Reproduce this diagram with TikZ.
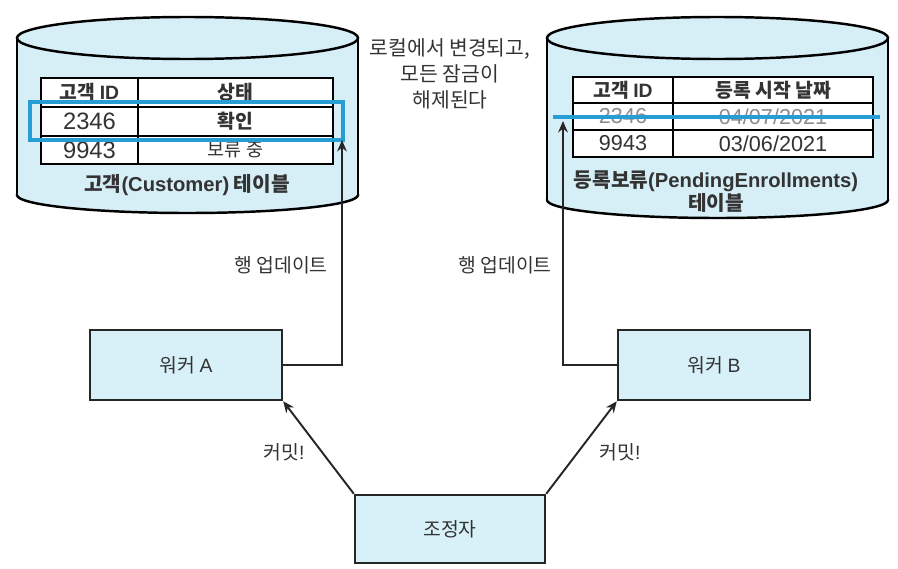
\documentclass[tikz,border=0pt]{standalone}
\usepackage{fontspec}
\setmainfont{Noto Sans CJK KR}
\newfontfamily\latinfont{Liberation Sans}
\definecolor{dbcyan}{RGB}{214, 238, 246}
\definecolor{boxcyan}{RGB}{216, 241, 249}
\definecolor{hlblue}{RGB}{38, 158, 212}
\definecolor{txtgray}{RGB}{51, 51, 51}
\usetikzlibrary{arrows.meta,positioning,calc}

\begin{document}
\begin{tikzpicture}[x=0.02cm, y=-0.02cm,
        every node/.style={text=txtgray, font=\fontsize{11}{13}\selectfont},
        procbox/.style={draw=black!85, line width=1.4pt, fill=boxcyan, minimum width=3.84cm, minimum height=1.4cm},
        cell/.style={font=\fontsize{10.5}{12}\selectfont},
        numcell/.style={font=\latinfont\fontsize{13.5}{14}\selectfont},
        headcell/.style={font=\fontsize{11}{12}\selectfont\bfseries},
        flow/.style={draw=black!85, line width=1.1pt, -{Stealth[length=6.5pt, width=5.5pt]}}]
        \useasboundingbox (0, 0) rectangle (898, 568);

        % Customer table cylinder
        \draw[line width=1.4pt, fill=dbcyan] (187.5, 195) ellipse [x radius=170.5, y radius=18];
        \fill[dbcyan] (17, 38) rectangle (358, 195);
        \draw[line width=1.4pt] (17, 38) -- (17, 195) (358, 38) -- (358, 195);
        \draw[line width=1.4pt, fill=dbcyan] (187.5, 38) ellipse [x radius=170.5, y radius=21];

        \draw[fill=white, line width=1.1pt] (41, 78) rectangle (333, 164);
        \draw[line width=1.1pt] (41, 107) -- (333, 107) (41, 136) -- (333, 136) (138, 78) -- (138, 164);
        \node[headcell] (lh1) at (89.5, 92.5) {고객 {\latinfont ID}};
        \node[headcell] (lh2) at (235.5, 92.5) {상태};
        \node[numcell] (la1) at (89.5, 121.5) {2346};
        \node[headcell] (la2) at (235.5, 121.5) {확인};
        \node[numcell] (lb1) at (89.5, 150) {9943};
        \node[cell] (lb2) at (235.5, 150) {보류 중};
        \node[draw=hlblue, line width=2.2pt, minimum width=6.26cm, minimum height=0.76cm, inner sep=0pt] (lhl) at (186.5, 121) {};
        \node[font=\fontsize{11.5}{13}\selectfont\bfseries] (lcap) at (187, 185) {고객{\latinfont(Customer)} 테이블};

        % PendingEnrollments table cylinder
        \draw[line width=1.4pt, fill=dbcyan] (717.5, 200) ellipse [x radius=170.5, y radius=18];
        \fill[dbcyan] (547, 38) rectangle (888, 200);
        \draw[line width=1.4pt] (547, 38) -- (547, 200) (888, 38) -- (888, 200);
        \draw[line width=1.4pt, fill=dbcyan] (717.5, 38) ellipse [x radius=170.5, y radius=21];

        \draw[fill=white, line width=1.1pt] (573, 77) rectangle (873, 157);
        \draw[line width=1.1pt] (573, 103) -- (873, 103) (573, 130) -- (873, 130) (673, 77) -- (673, 157);
        \node[headcell] (rh1) at (623, 90) {고객 {\latinfont ID}};
        \node[headcell] (rh2) at (773, 90) {등록 시작 날짜};
        \node[numcell, font=\latinfont\fontsize{12.3}{13}\selectfont, text=black!45] (ra1) at (623, 116.5) {2346};
        \node[numcell, font=\latinfont\fontsize{12.3}{13}\selectfont, text=black!45] (ra2) at (773, 116.5) {04/07/2021};
        \node[numcell, font=\latinfont\fontsize{12.3}{13}\selectfont] (rb1) at (623, 143.5) {9943};
        \node[numcell, font=\latinfont\fontsize{12.3}{13}\selectfont] (rb2) at (773, 143.5) {03/06/2021};
        \draw[hlblue, line width=2.2pt] (553, 117) -- (880, 117);
        \node[font=\fontsize{11.5}{11.3}\selectfont\bfseries, align=center] (rcap) at (716, 192) {등록보류{\latinfont(PendingEnrollments)}\\테이블};

        % Note
        \node[align=center, font=\fontsize{11.6}{14.7}\selectfont] (note) at (450, 74) {로컬에서 변경되고,\\모든 잠금이\\해제된다};

        % Workers and coordinator
        \node[procbox] (wA) at (186, 365) {워커 {\latinfont A}};
        \node[procbox] (wB) at (714, 365) {워커 {\latinfont B}};
        \node[procbox, minimum width=3.8cm, minimum height=1.36cm] (coord) at (450, 529) {조정자};

        % Updates
        \coordinate (lup) at (342, 140);
        \coordinate (rup) at (563, 121);
        \draw[flow] (wA.east) -| (lup);
        \draw[flow] (wB.west) -| (rup);
        \node (lupd) at (281, 265) {행 업데이트};
        \node (rupd) at (505, 265) {행 업데이트};

        % Commits
        \draw[flow] (coord.north west) -- (wA.south east);
        \draw[flow] (coord.north east) -- (wB.south west);
        \node (lcom) at (284, 452) {커밋{\latinfont!}};
        \node (rcom) at (620, 452) {커밋{\latinfont!}};
    \end{tikzpicture}
\end{document}
